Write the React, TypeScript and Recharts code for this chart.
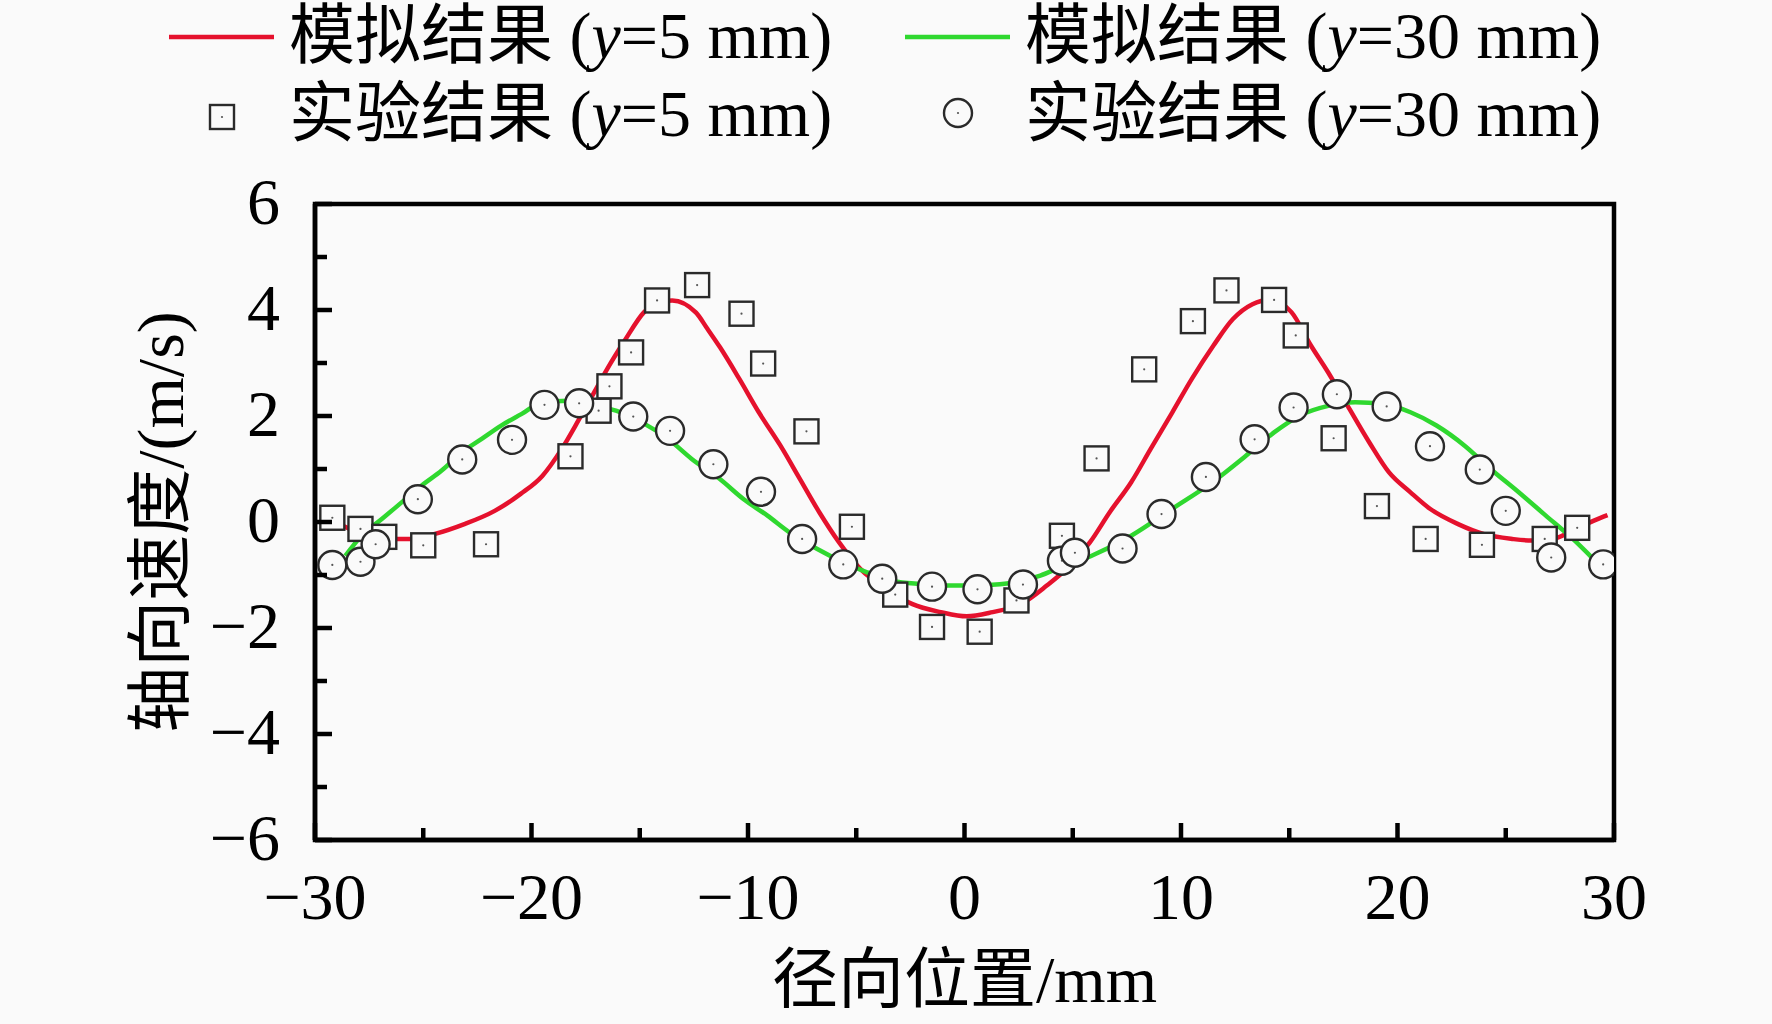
import {
  ComposedChart,
  Label,
  Line,
  ReferenceArea,
  Scatter,
  XAxis,
  YAxis,
} from 'recharts';

// simulation, y = 5 mm
const sim5X = [-29.3, -28.3, -27.4, -26.6, -25.5, -24.5, -23.1, -21.7, -20.5, -19.5, -18.6, -17.8, -17.1, -16.5, -15.7, -14.8, -14.2, -13.5, -12.4, -11.9, -11.3, -10.4, -9.5, -8.5, -7.6, -6.7, -5.8, -4.8, -3.6, -2.4, -1.1, 0.1, 1.3, 2.6, 3.8, 4.7, 5.8, 6.7, 7.7, 8.6, 9.6, 10.5, 11.5, 12.4, 13.3, 14.1, 15.1, 16.0, 16.8, 17.7, 18.7, 19.6, 20.6, 21.5, 22.8, 24.0, 25.3, 26.2, 27.2, 28.1, 29.1, 29.7];
const sim5Y = [0.05, -0.15, -0.28, -0.32, -0.32, -0.23, -0.04, 0.21, 0.53, 0.87, 1.38, 1.94, 2.45, 2.89, 3.42, 3.96, 4.15, 4.18, 3.95, 3.66, 3.3, 2.7, 2.07, 1.44, 0.81, 0.18, -0.38, -0.89, -1.26, -1.55, -1.7, -1.78, -1.7, -1.55, -1.2, -0.89, -0.38, 0.18, 0.75, 1.38, 2.07, 2.7, 3.33, 3.83, 4.11, 4.19, 3.96, 3.33, 2.82, 2.19, 1.5, 0.94, 0.56, 0.25, -0.04, -0.23, -0.32, -0.35, -0.32, -0.16, 0.03, 0.13];

// simulation, y = 30 mm
const sim30X = [-28.6, -27.85, -26.9, -26.0, -25.1, -24.15, -23.2, -22.3, -21.4, -20.45, -19.5, -18.3, -17.1, -16.1, -14.9, -13.7, -12.6, -11.3, -10.2, -9.1, -8.1, -6.8, -5.6, -4.5, -3.3, -2.1, -0.7, 0.9, 2.25, 3.5, 4.4, 5.8, 7.7, 9.6, 11.45, 13.0, 14.3, 15.5, 16.8, 18.05, 19.3, 20.6, 21.8, 23.1, 24.3, 25.6, 26.85, 28.1, 29.05];
const sim30Y = [-0.64, -0.26, 0.06, 0.37, 0.68, 0.97, 1.32, 1.57, 1.82, 2.04, 2.26, 2.29, 2.19, 2.1, 1.88, 1.57, 1.19, 0.81, 0.43, 0.12, -0.19, -0.51, -0.76, -0.95, -1.11, -1.17, -1.2, -1.19, -1.14, -1.01, -0.86, -0.65, -0.26, 0.25, 0.75, 1.25, 1.69, 2.01, 2.19, 2.26, 2.23, 2.07, 1.82, 1.44, 1.0, 0.56, 0.12, -0.32, -0.7];

// experiment, y = 5 mm
const exp5X = [-29.2, -27.9, -26.8, -25.0, -22.1, -18.2, -16.9, -16.4, -15.4, -14.2, -12.35, -10.3, -9.3, -7.3, -5.2, -3.2, -1.5, 0.7, 2.4, 4.5, 6.1, 8.3, 10.55, 12.1, 14.3, 15.3, 17.05, 19.05, 21.3, 23.9, 26.8, 28.3];
const exp5Y = [0.08, -0.13, -0.28, -0.44, -0.42, 1.24, 2.1, 2.56, 3.2, 4.18, 4.47, 3.93, 2.99, 1.71, -0.09, -1.37, -1.98, -2.07, -1.48, -0.26, 1.2, 2.88, 3.79, 4.37, 4.19, 3.52, 1.58, 0.3, -0.32, -0.43, -0.32, -0.11];

// experiment, y = 30 mm
const exp30X = [-29.2, -27.9, -27.2, -25.25, -23.2, -20.9, -19.4, -17.8, -15.3, -13.6, -11.6, -9.4, -7.5, -5.6, -3.8, -1.5, 0.6, 2.7, 4.5, 5.1, 7.3, 9.1, 11.15, 13.4, 15.2, 17.2, 19.5, 21.5, 23.8, 25.0, 27.1, 29.5];
const exp30Y = [-0.81, -0.75, -0.42, 0.43, 1.18, 1.55, 2.21, 2.24, 1.99, 1.72, 1.09, 0.57, -0.32, -0.8, -1.07, -1.22, -1.27, -1.18, -0.73, -0.58, -0.5, 0.15, 0.85, 1.56, 2.16, 2.41, 2.18, 1.43, 0.99, 0.21, -0.67, -0.8];

const xTicks = [-30, -25, -20, -15, -10, -5, 0, 5, 10, 15, 20, 25, 30];
const yTicks = [-6, -5, -4, -3, -2, -1, 0, 1, 2, 3, 4, 5, 6];

const RED = '#e5112d';
const GREEN = '#2fd82f';
const BG = '#fafafa';
const FONT = "'Liberation Serif', 'Times New Roman', 'Noto Sans CJK SC', serif";

const toPoints = (xs: number[], ys: number[]) =>
  xs.map((x, i) => ({ x, y: ys[i] }));

const fmt = (v: number) => (v < 0 ? `\u2212${Math.abs(v)}` : `${v}`);

const XTick = ({ x, y, payload }: any) => {
  const v = payload.value;
  const major = v % 10 === 0;
  return (
    <g>
      <line x1={x} x2={x} y1={y} y2={y - (major ? 17 : 12)} stroke="#000" strokeWidth={4.5} />
      {major && (
        <text x={x} y={y + 79} textAnchor="middle" fontSize={66} fontFamily={FONT} fill="#000">
          {fmt(v)}
        </text>
      )}
    </g>
  );
};

const YTick = ({ x, y, payload }: any) => {
  const v = payload.value;
  const major = v % 2 === 0;
  return (
    <g>
      <line x1={x} x2={x + (major ? 17 : 12)} y1={y} y2={y} stroke="#000" strokeWidth={4.5} />
      {major && (
        <text x={x - 35} y={y + 20} textAnchor="end" fontSize={66} fontFamily={FONT} fill="#000">
          {fmt(v)}
        </text>
      )}
    </g>
  );
};

const SquareDot = ({ cx, cy }: any) => (
  <g>
    <rect x={cx - 12} y={cy - 12} width={24} height={24} fill={BG} stroke="#2a2a2a" strokeWidth={2.4} />
    <circle cx={cx} cy={cy} r={1.1} fill="#555" />
  </g>
);

const CircleDot = ({ cx, cy }: any) => (
  <g>
    <circle cx={cx} cy={cy} r={14} fill={BG} stroke="#2a2a2a" strokeWidth={2.4} />
    <circle cx={cx} cy={cy} r={1.1} fill="#555" />
  </g>
);

const legendItems = [
  { kind: 'line', color: RED, text: '模拟结果', pos: '5', col: 0, row: 0 },
  { kind: 'line', color: GREEN, text: '模拟结果', pos: '30', col: 1, row: 0 },
  { kind: 'square', color: '#333', text: '实验结果', pos: '5', col: 0, row: 1 },
  { kind: 'circle', color: '#333', text: '实验结果', pos: '30', col: 1, row: 1 },
];

const ChartLegend = () => {
  const colX = [222, 958];
  const rowY = [37, 115];
  return (
    <svg
      width={1772}
      height={160}
      style={{ position: 'absolute', left: 0, top: 0, pointerEvents: 'none' }}
    >
      {legendItems.map((item, i) => {
        const cx = colX[item.col];
        const cy = rowY[item.row];
        return (
          <g key={i}>
            {item.kind === 'line' && (
              <line x1={cx - 53} x2={cx + 52} y1={cy} y2={cy} stroke={item.color} strokeWidth={4.5} />
            )}
            {item.kind === 'square' && <SquareDot cx={cx} cy={cy + 2} />}
            {item.kind === 'circle' && <CircleDot cx={cx} cy={cy - 2} />}
            <text x={cx + 67} y={cy + 21} fontSize={66} fontFamily={FONT} fill="#000">
              {item.text} (<tspan fontStyle="italic">y</tspan>={item.pos} mm)
            </text>
          </g>
        );
      })}
    </svg>
  );
};

const App = () => {
  return (
    <div
      style={{
        position: 'absolute',
        left: 0,
        top: 0,
        width: 1772,
        height: 1024,
        background: BG,
        fontFamily: FONT,
      }}
    >
      <ComposedChart
        width={1772}
        height={1024}
        margin={{ top: 204, right: 158, bottom: 0, left: 0 }}
      >
        <XAxis
          type="number"
          dataKey="x"
          domain={[-30, 30]}
          ticks={xTicks}
          interval={0}
          allowDataOverflow
          height={184}
          tickSize={0}
          tickMargin={0}
          tickLine={false}
          tick={<XTick />}
          axisLine={{ stroke: '#000', strokeWidth: 4.5 }}
        >
          <Label
            content={({ viewBox }: any) => (
              <text
                x={viewBox.x + viewBox.width / 2}
                y={viewBox.y + 162}
                textAnchor="middle"
                fontSize={66}
                fontFamily={FONT}
                fill="#000"
              >
                径向位置/mm
              </text>
            )}
          />
        </XAxis>
        <YAxis
          type="number"
          domain={[-6, 6]}
          ticks={yTicks}
          interval={0}
          allowDataOverflow
          width={315}
          tickSize={0}
          tickMargin={0}
          tickLine={false}
          tick={<YTick />}
          axisLine={{ stroke: '#000', strokeWidth: 4.5 }}
        >
          <Label
            content={({ viewBox }: any) => {
              const cx = viewBox.x + 160;
              const cy = viewBox.y + viewBox.height / 2;
              return (
                <text
                  x={cx}
                  y={cy}
                  transform={`rotate(-90, ${cx}, ${cy})`}
                  textAnchor="middle"
                  dominantBaseline="central"
                  fontSize={66}
                  fontFamily={FONT}
                  fill="#000"
                >
                  轴向速度/(m/s)
                </text>
              );
            }}
          />
        </YAxis>
        <ReferenceArea
          x1={-30}
          x2={30}
          y1={-6}
          y2={6}
          fill="none"
          fillOpacity={0}
          stroke="#000"
          strokeWidth={4.5}
        />
        <Scatter
          data={toPoints(exp5X, exp5Y)}
          dataKey="y"
          shape={(p: any) => <SquareDot {...p} />}
          isAnimationActive={false}
        />
        <Scatter
          data={toPoints(exp30X, exp30Y)}
          dataKey="y"
          shape={(p: any) => <CircleDot {...p} />}
          isAnimationActive={false}
        />
        <Line
          data={toPoints(sim5X, sim5Y)}
          dataKey="y"
          type="monotone"
          stroke={RED}
          strokeWidth={4.5}
          dot={false}
          activeDot={false}
          isAnimationActive={false}
        />
        <Line
          data={toPoints(sim30X, sim30Y)}
          dataKey="y"
          type="monotone"
          stroke={GREEN}
          strokeWidth={4.5}
          dot={false}
          activeDot={false}
          isAnimationActive={false}
        />
      </ComposedChart>
      <ChartLegend />
    </div>
  );
};

export default App;
